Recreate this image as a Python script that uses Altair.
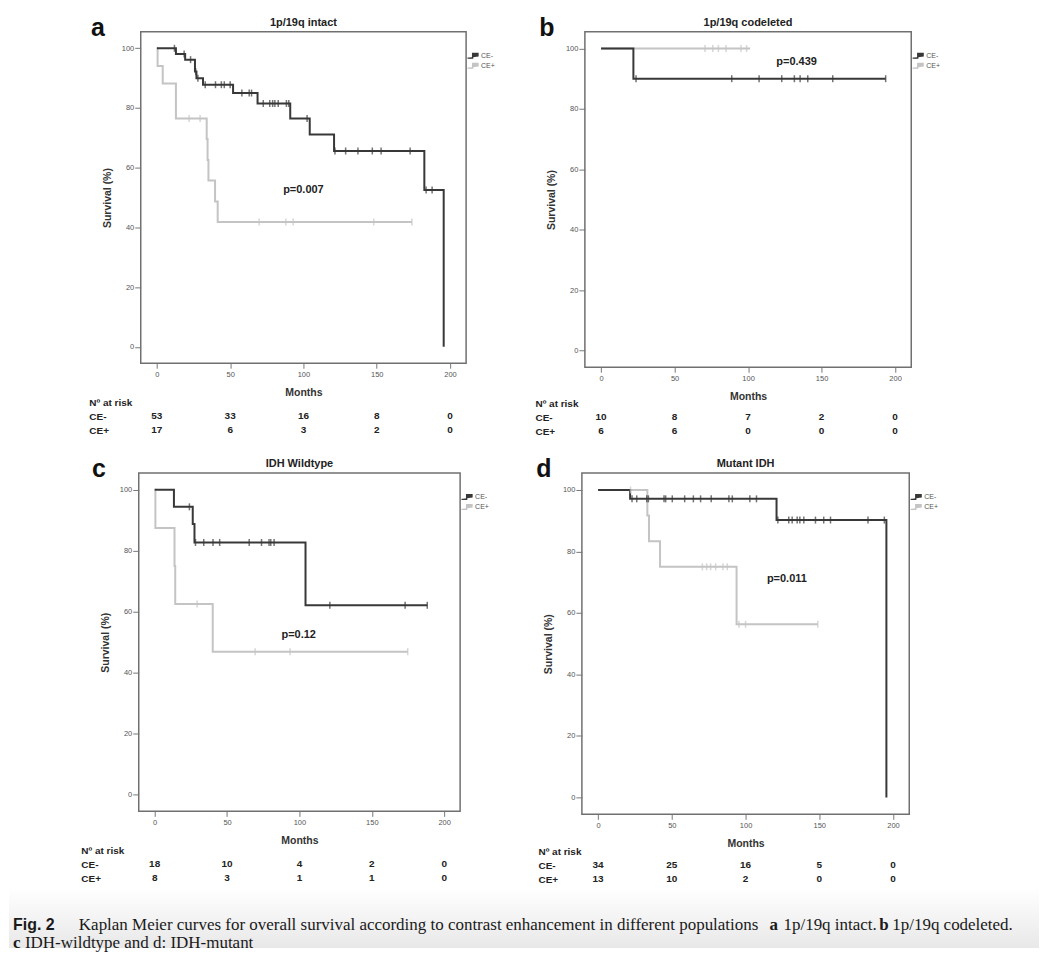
import altair as alt
import pandas as pd

SANS = "Liberation Sans"
SERIF = "Liberation Serif"
DARK = "#383838"
LIGHT = "#c4c4c4"
FRAME = "#707070"
GROUPS = ["CE-", "CE+"]
XDOM = [-11, 211]
YDOM = [-5.5, 105.5]
X_TICKS = [0, 50, 100, 150, 200]
Y_TICKS = [0, 20, 40, 60, 80, 100]
RISK_T = [0, 50, 100, 150, 200]
ROWS = ["Nº at risk", "CE-", "CE+"]
STEP_PATH = "M-2.2,0.8L-0.5,0.8L-0.5,-0.8L1.3,-0.8L1.3,0.2"

# ---------- panel a : 1p/19q intact ----------
a_letter = "a"
a_title = "1p/19q intact"
a_neg_t = [0, 13, 19.3, 26, 27, 31.5, 52, 68.7, 91, 104.3, 120.9, 182.5, 195.7]
a_neg_s = [100, 98.1, 96.2, 92.2, 90.0, 87.8, 85.0, 81.5, 76.5, 71.1, 65.6, 52.5, 0]
a_neg_c = [12, 18.6, 23, 26.5, 28, 33, 40, 44, 46, 50, 58, 63, 64.6, 72.6, 77, 79,
           80.5, 82.8, 88.4, 90, 102.5, 121.5, 128.8, 137.2, 147, 153, 172.8, 183.7, 187.8]
a_pos_t = [0, 0.5, 4, 13, 34, 34.6, 35.2, 39.7, 41.5, 174]
a_pos_s = [100, 94.1, 88.2, 76.5, 69.6, 62.6, 55.7, 48.7, 41.8, 41.8]
a_pos_c = [22, 29.5, 69.8, 88, 93, 148, 174]
a_risk_neg = [53, 33, 16, 8, 0]
a_risk_pos = [17, 6, 3, 2, 0]
a_p = ["p=0.007"]
a_p_t = [100]
a_p_s = [52.5]

# ---------- panel b : 1p/19q codeleted ----------
b_letter = "b"
b_title = "1p/19q codeleted"
b_neg_t = [0, 22, 193.6]
b_neg_s = [100, 90.0, 90.0]
b_neg_c = [23.8, 88.9, 107.5, 122.9, 131.5, 135.4, 140.6, 157.6, 193.6]
b_pos_t = [0, 101.4]
b_pos_s = [100, 100]
b_pos_c = [70.7, 76, 79.8, 85, 95.2, 99]
b_risk_neg = [10, 8, 7, 2, 0]
b_risk_pos = [6, 6, 0, 0, 0]
b_p = ["p=0.439"]
b_p_t = [133]
b_p_s = [95.4]

# ---------- panel c : IDH wildtype ----------
c_letter = "c"
c_title = "IDH Wildtype"
c_neg_t = [0, 13.3, 26.3, 27.5, 104.2, 188.3]
c_neg_s = [100, 94.4, 88.8, 82.7, 62.1, 62.1]
c_neg_c = [24, 28.2, 33.9, 40.3, 44.9, 65.3, 73.8, 79, 80.2, 82.5, 121, 173, 188.3]
c_pos_t = [0, 0.5, 13.7, 14.2, 40.1, 174.8]
c_pos_s = [100, 87.5, 75.0, 62.5, 46.9, 46.9]
c_pos_c = [29.3, 69.4, 93.5, 174.8]
c_risk_neg = [18, 10, 4, 2, 0]
c_risk_pos = [8, 3, 1, 1, 0]
c_p = ["p=0.12"]
c_p_t = [99.5]
c_p_s = [52.5]

# ---------- panel d : Mutant IDH ----------
d_letter = "d"
d_title = "Mutant IDH"
d_neg_t = [0, 21.7, 121, 195.5]
d_neg_s = [100, 97.1, 90.2, 0]
d_neg_c = [23, 26.2, 33, 34.1, 44.7, 45.8, 50.3, 58.7, 64.6, 69.5, 76.7, 88.7, 91,
           102.9, 107.4, 121.9, 129.3, 131.6, 135, 136.8, 139.5, 147.4, 153, 157.6, 183, 194.1]
d_pos_t = [0, 33.4, 34.5, 42, 93.9, 149]
d_pos_s = [100, 91.7, 83.3, 75.0, 56.3, 56.3]
d_pos_c = [22, 70.7, 73.6, 76.3, 79.7, 84.7, 87.6, 95.5, 100, 149]
d_risk_neg = [34, 25, 16, 5, 0]
d_risk_pos = [13, 10, 2, 0, 0]
d_p = ["p=0.011"]
d_p_t = [128]
d_p_s = [71]

CAPTION = [
    "Fig. 2",
    "Kaplan Meier curves for overall survival according to contrast enhancement in different populations",
    "a",
    "1p/19q intact.",
    "b",
    "1p/19q codeleted.",
    "c",
    "IDH-wildtype and d: IDH-mutant",
]


def level_at(times, surv, t):
    val = surv[0]
    for tt, ss in zip(times, surv):
        if tt <= t:
            val = ss
    return val


def label_mark(txt, x, y, size, color, align="center", baseline="middle"):
    return alt.Chart(pd.DataFrame({"label": [txt]})).mark_text(
        font=SANS, fontSize=size, fontWeight="bold", color=color, align=align,
        baseline=baseline).encode(x=alt.value(x), y=alt.value(y), text="label:N")


def make_panel(letter, title, neg_t, neg_s, neg_c, pos_t, pos_s, pos_c,
               risk_neg, risk_pos, p_lab, p_t, p_s, w, h, risk_pad, letter_dx, risk_gap):
    curves = pd.DataFrame({
        "t": neg_t + pos_t,
        "s": neg_s + pos_s,
        "g": ["CE-"] * len(neg_t) + ["CE+"] * len(pos_t),
    })
    cens = pd.DataFrame({
        "t": neg_c + pos_c,
        "s": [level_at(neg_t, neg_s, t) for t in neg_c] + [level_at(pos_t, pos_s, t) for t in pos_c],
        "g": ["CE-"] * len(neg_c) + ["CE+"] * len(pos_c),
    })
    ptxt = pd.DataFrame({"t": p_t, "s": p_s, "label": p_lab})

    xs = alt.Scale(domain=XDOM, nice=False, zero=False)
    ys = alt.Scale(domain=YDOM, nice=False, zero=False)
    cs = alt.Scale(domain=GROUPS, range=[DARK, LIGHT])
    xax = alt.Axis(values=X_TICKS, title="Months", grid=False, domain=False,
                   tickSize=5, tickColor="#777", tickWidth=1,
                   labelFont=SANS, labelFontSize=7.5, labelColor="#555", labelPadding=2,
                   titleFont=SANS, titleFontSize=10.5, titleFontWeight="bold",
                   titleColor="#333", titlePadding=10)
    yax = alt.Axis(values=Y_TICKS, title="Survival (%)", grid=False, domain=False,
                   tickSize=6, tickColor="#777", tickWidth=1,
                   labelFont=SANS, labelFontSize=7.5, labelColor="#555", labelPadding=1,
                   titleFont=SANS, titleFontSize=10.5, titleFontWeight="bold",
                   titleColor="#333", titlePadding=9)
    leg = alt.Legend(title=None, orient="none", legendX=w + 4, legendY=20,
                     symbolType=STEP_PATH, symbolSize=36, symbolStrokeWidth=1.3,
                     symbolFillColor="transparent",
                     labelFont=SANS, labelFontSize=7, labelColor="#555",
                     labelOffset=3, rowPadding=0, padding=0)

    base = alt.Chart(curves).mark_line(interpolate="step-after", strokeWidth=2)
    enc = dict(
        x=alt.X("t:Q", scale=xs, axis=xax),
        y=alt.Y("s:Q", scale=ys, axis=yax),
        color=alt.Color("g:N", scale=cs, legend=leg),
    )
    light = base.transform_filter(alt.datum.g == "CE+").encode(**enc)
    dark = base.transform_filter(alt.datum.g == "CE-").encode(**enc)
    ticks = alt.Chart(cens).mark_tick(orient="vertical", size=7, thickness=1.5).encode(
        x="t:Q", y="s:Q",
        fill=alt.Fill("g:N", scale=alt.Scale(domain=GROUPS, range=[DARK, LIGHT]), legend=None),
    )
    ptext = alt.Chart(ptxt).mark_text(font=SANS, fontSize=11, fontWeight="bold", color="#222").encode(
        x="t:Q", y="s:Q", text="label:N")
    lett = label_mark(letter, letter_dx, 4, 25, "#111", baseline="alphabetic")
    ttl = label_mark(title, w / 2, -9, 11, "#222")

    plot = alt.layer(light, dark, ticks, ptext, lett, ttl).properties(
        width=w, height=h,
        view=alt.ViewBackground(stroke=FRAME, strokeWidth=1.5),
    )

    risk_df = pd.DataFrame({
        "t": RISK_T + RISK_T,
        "row": ["CE-"] * 5 + ["CE+"] * 5,
        "n": risk_neg + risk_pos,
    })
    risk = alt.Chart(risk_df).mark_text(font=SANS, fontSize=10, fontWeight="bold", color="#222").encode(
        x=alt.X("t:Q", scale=xs, axis=None),
        y=alt.Y("row:N", scale=alt.Scale(type="point", domain=ROWS, padding=0.5),
                axis=alt.Axis(title=None, domain=False, ticks=False, tickSize=0,
                              labelAlign="left", labelPadding=risk_pad,
                              labelFont=SANS, labelFontSize=10, labelFontWeight="bold",
                              labelColor="#222")),
        text="n:Q",
    ).properties(width=w, height=42, view=alt.ViewBackground(stroke="transparent"))

    return alt.vconcat(plot, risk, spacing=risk_gap, bounds="flush").resolve_scale(
        color="independent", fill="independent").resolve_legend(color="independent")


def spacer(wd):
    return alt.Chart(pd.DataFrame({"v": [0]})).mark_point(opacity=0).properties(
        width=wd, height=10, view=alt.ViewBackground(stroke="transparent"))


pa = make_panel(a_letter, a_title, a_neg_t, a_neg_s, a_neg_c, a_pos_t, a_pos_s, a_pos_c,
                a_risk_neg, a_risk_pos, a_p, a_p_t, a_p_s, 326, 332, 52, -43, 32)
pb = make_panel(b_letter, b_title, b_neg_t, b_neg_s, b_neg_c, b_pos_t, b_pos_s, b_pos_c,
                b_risk_neg, b_risk_pos, b_p, b_p_t, b_p_s, 327, 336, 50, -38, 29)
pc = make_panel(c_letter, c_title, c_neg_t, c_neg_s, c_neg_c, c_pos_t, c_pos_s, c_pos_c,
                c_risk_neg, c_risk_pos, c_p, c_p_t, c_p_s, 322, 339, 58, -40, 32)
pd_ = make_panel(d_letter, d_title, d_neg_t, d_neg_s, d_neg_c, d_pos_t, d_pos_s, d_pos_c,
                 d_risk_neg, d_risk_pos, d_p, d_p_t, d_p_s, 328, 342, 44, -38, 30)

row1 = alt.hconcat(spacer(40), pa, pb, spacing=38).resolve_scale(
    color="independent", fill="independent").resolve_legend(color="independent")
row2 = alt.hconcat(spacer(25), pc, pd_, spacing=45).resolve_scale(
    color="independent", fill="independent").resolve_legend(color="independent")

# caption (positions are page x minus the 8px margin)
L1 = 37
L2 = 55
CAP_W = 1032
CAP_H = 60
CAP_SIZE = 17


def cap(txt, x, y, font, weight, size):
    return alt.Chart(pd.DataFrame({"label": [txt]})).mark_text(
        font=font, fontSize=size, fontWeight=weight, color="#1a1a1a",
        align="left", baseline="middle").encode(x=alt.value(x), y=alt.value(y), text="label:N")


grad = alt.LinearGradient(gradient="linear",
                          stops=[alt.GradientStop(offset=0, color="#ffffff"),
                                 alt.GradientStop(offset=1, color="#e8e8e8")],
                          x1=0, x2=0, y1=0, y2=1)
band = alt.Chart(pd.DataFrame({"v": [0]})).mark_rect(color=grad).encode(
    x=alt.value(0), x2=alt.value(CAP_W), y=alt.value(0), y2=alt.value(CAP_H))

caption = alt.layer(
    band,
    cap(CAPTION[0], 4, L1, SANS, "bold", 16),
    cap(CAPTION[1], 70, L1, SERIF, "normal", CAP_SIZE),
    cap(CAPTION[2], 762, L1, SERIF, "bold", CAP_SIZE),
    cap(CAPTION[3], 776, L1, SERIF, "normal", CAP_SIZE),
    cap(CAPTION[4], 872, L1, SERIF, "bold", CAP_SIZE),
    cap(CAPTION[5], 885, L1, SERIF, "normal", CAP_SIZE),
    cap(CAPTION[6], 4, L2, SERIF, "bold", CAP_SIZE),
    cap(CAPTION[7], 16, L2, SERIF, "normal", CAP_SIZE),
).properties(width=CAP_W, height=CAP_H, view=alt.ViewBackground(stroke="transparent"))

grid = alt.vconcat(row1, row2, spacing=17).resolve_scale(
    color="independent", fill="independent").resolve_legend(color="independent")

chart = alt.vconcat(grid, caption, spacing=0).resolve_scale(
    color="independent", fill="independent").resolve_legend(color="independent").properties(
    padding={"left": 0, "top": 6, "right": 0, "bottom": 0}, background="white")

chart.save("out.html", embed_options={"renderer": "svg", "actions": False})
